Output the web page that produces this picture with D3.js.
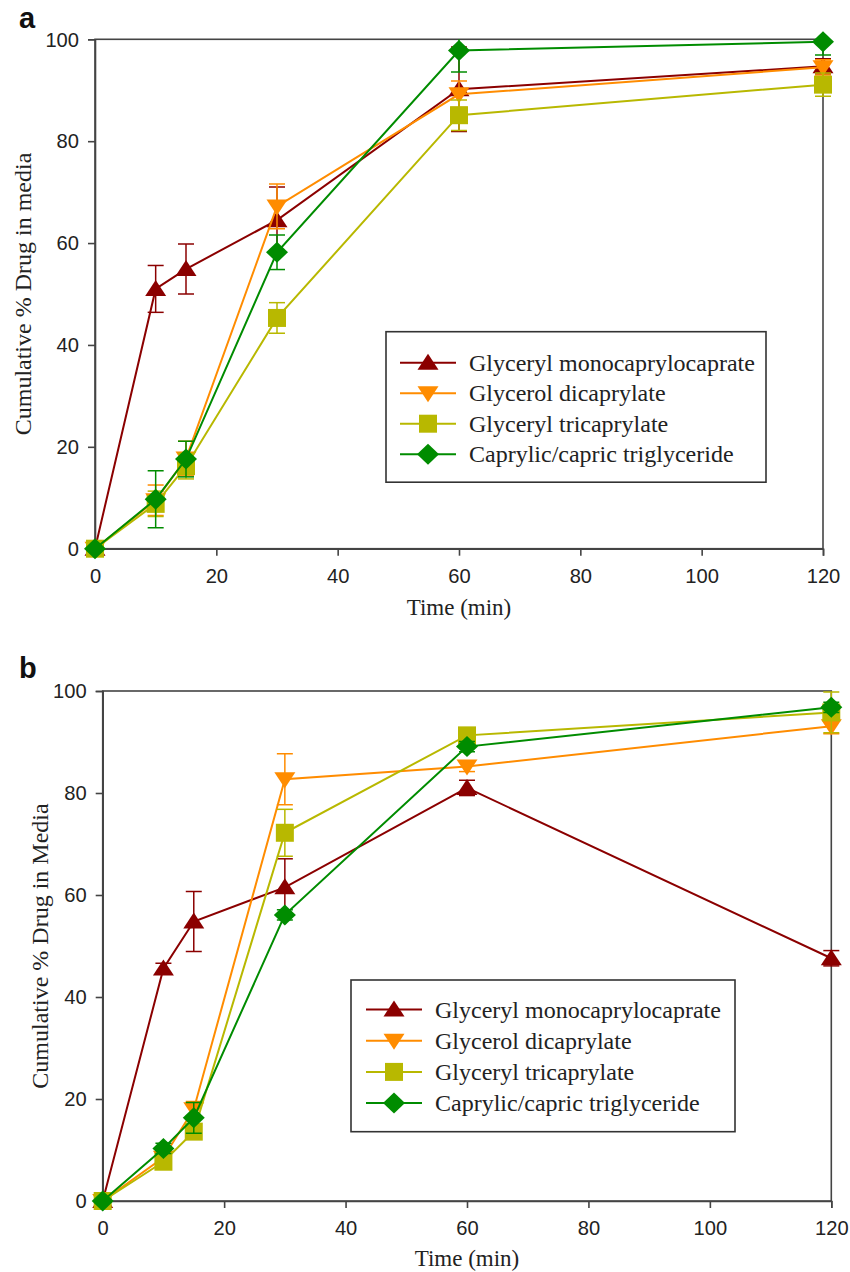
<!DOCTYPE html>
<html><head><meta charset="utf-8">
<script src="https://cdn.jsdelivr.net/npm/d3@7"></script>
<style>body{margin:0;background:#fff}svg{display:block}</style>
</head><body>
<svg id="chart" width="850" height="1272"></svg>
<script>
const times = [0, 10, 15, 30, 60, 120];
const seriesNames = ["Glyceryl monocaprylocaprate", "Glycerol dicaprylate", "Glyceryl tricaprylate", "Caprylic/capric triglyceride"];
const seriesColors = ["#8b0000", "#ff8c00", "#b8b800", "#008c00"];
const seriesShapes = ["up", "down", "square", "diamond"];
const xTicks = [0, 20, 40, 60, 80, 100, 120];
const yTicks = [0, 20, 40, 60, 80, 100];

// Panel a
const aMono = [0, 51, 54.9, 64.5, 90.2, 94.7];
const aMonoErr = [0, 4.6, 4.9, 6.5, 8.3, 1.5];
const aDicap = [0, 9.5, 17.7, 67.2, 89.2, 94.5];
const aDicapErr = [0, 3, 3.4, 4.4, 2.6, 1.5];
const aTricap = [0, 8.8, 16.2, 45.3, 85.1, 91.1];
const aTricapErr = [0, 2.5, 2.5, 3, 3, 2.3];
const aCapric = [0, 9.7, 17.6, 58.2, 97.8, 99.5];
const aCapricErr = [0, 5.6, 3.5, 3.4, 4.2, 2.6];

// Panel b
const bMono = [0, 45.6, 54.8, 61.5, 81, 47.6];
const bMonoErr = [0, 1, 5.9, 5.6, 1.5, 1.5];
const bDicap = [0, 8.5, 18, 82.7, 85.2, 93.1];
const bDicapErr = [0, 1, 1.5, 5, 1, 1.5];
const bTricap = [0, 7.7, 13.6, 72.2, 91.3, 95.8];
const bTricapErr = [0, 1, 1.5, 4.6, 1, 4];
const bCapric = [0, 10.3, 16.3, 56.1, 89.1, 96.8];
const bCapricErr = [0, 1, 3, 1, 1, 1];

const svg = d3.select("#chart");
const serif = "'Liberation Serif','Times New Roman',serif";
const sans = "'Liberation Sans',Arial,sans-serif";

function shapePath(s) {
  if (s === "up") return "M0,-9L10.5,7L-10.5,7Z";
  if (s === "down") return "M0,9L10.5,-7L-10.5,-7Z";
  if (s === "square") return "M-9,-9H9V9H-9Z";
  return "M0,-10.5L11,0L0,10.5L-11,0Z";
}

function panel(cfg) {
  const x = d3.scaleLinear().domain([0, 120]).range([cfg.x0, cfg.x1]);
  const y = d3.scaleLinear().domain([0, 100]).range([cfg.y0, cfg.y1]);
  const g = svg.append("g");
  const clipId = "clip-" + cfg.letter;
  svg.append("clipPath").attr("id", clipId).append("rect")
    .attr("x", cfg.x0 - 20).attr("y", cfg.y1).attr("width", cfg.x1 - cfg.x0 + 40).attr("height", cfg.y0 - cfg.y1 + 20);

  // frame
  g.append("rect").attr("x", cfg.x0).attr("y", cfg.y1)
    .attr("width", cfg.x1 - cfg.x0).attr("height", cfg.y0 - cfg.y1)
    .attr("fill", "none").attr("stroke", "#444").attr("stroke-width", 1.6);

  const xa = g.append("g").attr("transform", `translate(0,${cfg.y0})`)
    .call(d3.axisBottom(x).tickValues(xTicks).tickSize(7).tickPadding(12).tickFormat(d3.format("d")));
  const ya = g.append("g").attr("transform", `translate(${cfg.x0},0)`)
    .call(d3.axisLeft(y).tickValues(yTicks).tickSize(7).tickPadding(9).tickFormat(d3.format("d")));
  [xa, ya].forEach(a => {
    a.select(".domain").attr("stroke", "#444").attr("stroke-width", 1.6);
    a.selectAll(".tick line").attr("stroke", "#444").attr("stroke-width", 1.6);
    a.selectAll(".tick text").attr("fill", "#222").style("font-family", sans).style("font-size", "21px")
      .attr("textLength", d => String(d).length * 11.2).attr("lengthAdjust", "spacingAndGlyphs");
  });

  // data
  cfg.series.forEach((vals, i) => {
    const err = cfg.errs[i];
    const col = seriesColors[i];
    const sg = g.append("g");
    const eg = sg.append("g").attr("clip-path", `url(#${clipId})`);
    const pts = times.map((t, j) => ({ t, v: vals[j], e: err[j] }));
    // error bars
    pts.filter(p => p.e > 0).forEach(p => {
      const cx = x(p.t);
      eg.append("line").attr("x1", cx).attr("x2", cx).attr("y1", y(p.v - p.e)).attr("y2", y(p.v + p.e))
        .attr("stroke", col).attr("stroke-width", 1.5);
      [p.v - p.e, p.v + p.e].forEach(yy => {
        eg.append("line").attr("x1", cx - 8).attr("x2", cx + 8).attr("y1", y(yy)).attr("y2", y(yy))
          .attr("stroke", col).attr("stroke-width", 1.5);
      });
    });
    sg.append("path").datum(pts)
      .attr("d", d3.line().x(p => x(p.t)).y(p => y(p.v)))
      .attr("fill", "none").attr("stroke", col).attr("stroke-width", 2);
    sg.selectAll("path.m").data(pts).enter().append("path").attr("class", "m")
      .attr("transform", p => `translate(${x(p.t)},${y(p.v)})`)
      .attr("d", shapePath(seriesShapes[i])).attr("fill", col);
  });

  // axis titles
  g.append("text").attr("x", (cfg.x0 + cfg.x1) / 2).attr("y", cfg.xTitleY)
    .attr("text-anchor", "middle").style("font-family", serif).style("font-size", "23px").attr("fill", "#222")
    .text("Time (min)");
  g.append("text").attr("transform", `translate(${cfg.yTitleX},${(cfg.y0 + cfg.y1) / 2}) rotate(-90)`)
    .attr("text-anchor", "middle").style("font-family", serif).style("font-size", "24px").attr("fill", "#222")
    .text(cfg.yTitle);
  g.append("text").attr("x", cfg.letterX).attr("y", cfg.letterY)
    .style("font-family", sans).style("font-weight", "bold").style("font-size", "29px").attr("fill", "#111")
    .text(cfg.letter);

  // legend
  const L = cfg.legend;
  g.append("rect").attr("x", L.x).attr("y", L.y).attr("width", L.w).attr("height", L.h)
    .attr("fill", "#fff").attr("stroke", "#333").attr("stroke-width", 1.6);
  seriesNames.forEach((name, i) => {
    const ry = L.rowY + i * L.dy;
    g.append("line").attr("x1", L.lx0).attr("x2", L.lx1).attr("y1", ry).attr("y2", ry)
      .attr("stroke", seriesColors[i]).attr("stroke-width", 2);
    g.append("path").attr("transform", `translate(${(L.lx0 + L.lx1) / 2},${ry})`)
      .attr("d", shapePath(seriesShapes[i])).attr("fill", seriesColors[i]);
    g.append("text").attr("x", L.tx).attr("y", ry + 8).style("font-family", serif).style("font-size", "24px")
      .attr("fill", "#222").text(name);
  });
}

panel({
  x0: 95, x1: 823, y0: 548.7, y1: 39.3,
  series: [aMono, aDicap, aTricap, aCapric],
  errs: [aMonoErr, aDicapErr, aTricapErr, aCapricErr],
  xTitleY: 615, yTitleX: 31, yTitle: "Cumulative % Drug in media",
  letter: "a", letterX: 19, letterY: 28,
  legend: { x: 386, y: 331.7, w: 380, h: 150.5, rowY: 362.7, dy: 30.5, lx0: 400, lx1: 456, tx: 469 }
});

panel({
  x0: 102.7, x1: 831.3, y0: 1201, y1: 691,
  series: [bMono, bDicap, bTricap, bCapric],
  errs: [bMonoErr, bDicapErr, bTricapErr, bCapricErr],
  xTitleY: 1266, yTitleX: 48, yTitle: "Cumulative % Drug in Media",
  letter: "b", letterX: 19, letterY: 678,
  legend: { x: 351, y: 980, w: 384, h: 151.7, rowY: 1009.5, dy: 31.2, lx0: 366, lx1: 422, tx: 435 }
});
</script>
</body></html>
